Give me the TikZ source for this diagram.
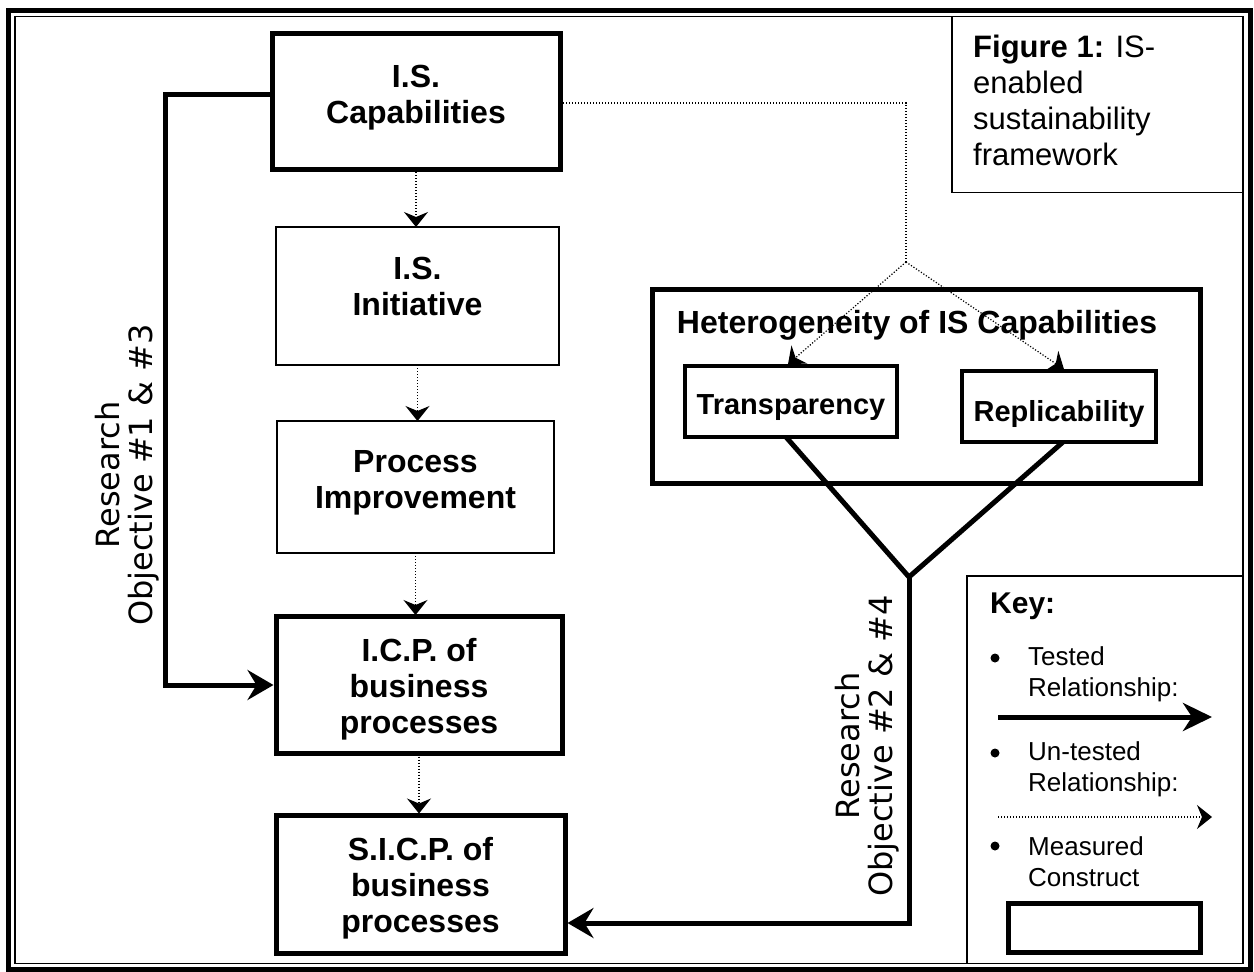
\documentclass[tikz,border=0pt]{standalone}
\usepackage{fontspec}
\setmainfont{Liberation Sans}
\newfontfamily\rotfont{DejaVu Sans}
\usetikzlibrary{arrows.meta}
\begin{document}
\begin{tikzpicture}[x=1pt,y=-1pt,
  thickbox/.style={draw, line width=5pt, inner sep=0pt, outer sep=0pt},
  medbox/.style={draw, line width=3.5pt, inner sep=0pt, outer sep=0pt},
  thinbox/.style={draw, line width=1.5pt, inner sep=0pt, outer sep=0pt},
  boxtext/.style={font=\bfseries\fontsize{32}{36}\selectfont, align=center, inner sep=0pt},
  smalltext/.style={font=\bfseries\fontsize{29}{35}\selectfont, inner sep=0pt},
  rottext/.style={font=\rotfont\fontsize{32}{33}\selectfont, align=center, rotate=90, inner sep=0pt},
  keytext/.style={font=\fontsize{26}{31}\selectfont, align=left, inner sep=0pt, anchor=west},
  bulletdot/.style={circle, fill, inner sep=0pt, minimum size=9pt},
  solidline/.style={line width=5pt},
  solidarrow/.style={line width=5pt, -{Stealth[length=26pt,width=30pt,inset=9pt]}},
  dotline/.style={line width=1.2pt, dash pattern=on 1.2pt off 1.8pt},
  dotarrow/.style={dotline, -{Stealth[length=15pt,width=24pt,inset=5pt]}},
]
\useasboundingbox (0,0) rectangle (1254,972);
% frame
\draw[line width=5pt] (8.5,10) rectangle (1250,969);
\draw[line width=1.5pt] (15,16.5) rectangle (1243,963.5);

% left column boxes
\node[thickbox, minimum width=288, minimum height=136] (cap) at (416,101) {};
\node[thinbox, minimum width=283, minimum height=138] (init) at (417.5,296) {};
\node[thinbox, minimum width=277, minimum height=132] (pi) at (415.5,487) {};
\node[thickbox, minimum width=286, minimum height=137] (icp) at (419,685) {};
\node[thickbox, minimum width=289, minimum height=138] (sicp) at (420.5,884) {};

\node[boxtext] (capT) at (416,98) {I.S.\\Capabilities};
\node[boxtext] (initT) at (417.5,286) {I.S.\\Initiative};
\node[boxtext] (piT) at (415.5,483) {Process\\Improvement};
\node[boxtext] (icpT) at (419,689) {I.C.P. of\\business\\processes};
\node[boxtext] (sicpT) at (420.5,888) {S.I.C.P. of\\business\\processes};

% heterogeneity
\node[thickbox, minimum width=548, minimum height=194] (het) at (926,386) {};
\node[boxtext] (hetT) at (917,325) {Heterogeneity of IS Capabilities};
\node[medbox, minimum width=212, minimum height=71] (trans) at (791,401.5) {};
\node[smalltext] (transT) at (791,408) {Transparency};
\node[medbox, minimum width=194, minimum height=71] (rep) at (1059,406.5) {};
\node[smalltext] (repT) at (1059,414) {Replicability};

% dotted chain
\draw[dotarrow] (cap.south) -- (cap.south |- init.north);
\draw[dotarrow] (init.south) -- (init.south |- pi.north);
\draw[dotarrow, shorten >=1.5pt] (pi.south) -- (pi.south |- icp.north);
\draw[dotarrow, shorten >=1.5pt] (icp.south) -- (icp.south |- sicp.north);

% feedback
\coordinate (fb) at (165,94);
\draw[solidarrow, shorten >=2.5pt] (cap.west |- fb) -- (fb) |- (icp.west);

% dotted to heterogeneity
\coordinate (dc) at (906,103);
\coordinate (fork) at (906,262);
\draw[dotline] (cap.east |- dc) -- (dc) -- (fork);
\draw[dotarrow] (fork) -- ([xshift=-3pt, yshift=1.75pt]trans.north);
\draw[dotarrow] (fork) -- ([xshift=5pt, yshift=1.75pt]rep.north);

% V and arrow to SICP
\coordinate (junc) at (909,577);
\draw[solidline] ([xshift=-5pt]trans.south) -- (junc) -- ([xshift=4pt]rep.south);
\coordinate (sa) at (909,923);
\draw[solidarrow, shorten >=2.5pt] (junc) -- (sa) -- (sa -| sicp.east);

% rotated labels
\node[rottext] (ro1) at (127,475) {Research\\Objective \#1 \& \#3};
\node[rottext] (ro2) at (867,746) {Research\\Objective \#2 \& \#4};

% figure caption
\node[thinbox, anchor=north west, minimum width=291, minimum height=176] (figbox) at (952,16.5) {};
\node[font=\fontsize{31}{36}\selectfont, align=left, inner sep=0pt, anchor=west] (figT) at (973,100) {\textbf{Figure 1:} IS-\\enabled\\sustainability\\framework};

% key
\node[thinbox, anchor=north west, minimum width=276, minimum height=387.5] (key) at (967,576) {};
\node[font=\bfseries\fontsize{30}{36}\selectfont, inner sep=0pt, anchor=west] (keyT) at (990,606) {Key:};
\node[bulletdot] (b1) at (995,658) {};
\node[keytext] (k1) at (1028,674) {Tested\\Relationship:};
\coordinate (k1s) at (998,717);
\coordinate (k1e) at (1212,717);
\draw[line width=5pt, -{Stealth[length=29pt,width=28pt,inset=9pt]}] (k1s) -- (k1e);
\node[bulletdot] (b2) at (995,753) {};
\node[keytext] (k2) at (1028,769) {Un-tested\\Relationship:};
\coordinate (k2s) at (998,817);
\coordinate (k2e) at (1212,817);
\draw[dotarrow] (k2s) -- (k2e);
\node[bulletdot] (b3) at (995,846) {};
\node[keytext] (k3) at (1028,862) {Measured\\Construct};
\node[thickbox, minimum width=192, minimum height=49] (kbox) at (1104,927.5) {};
\end{tikzpicture}
\end{document}
